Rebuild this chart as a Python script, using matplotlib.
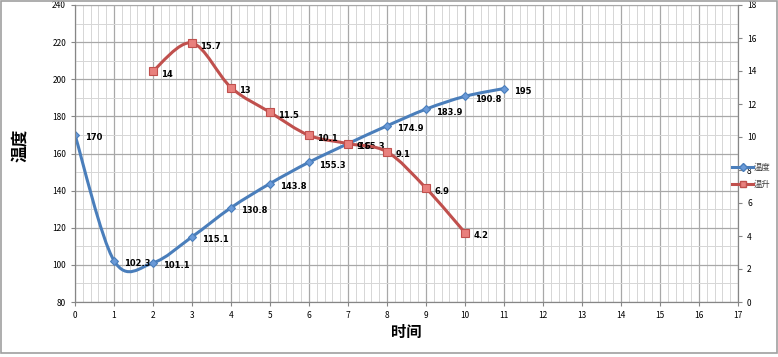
import matplotlib
matplotlib.use("Agg")
import matplotlib.pyplot as plt
from matplotlib.path import Path
from matplotlib.patches import PathPatch, Rectangle
from matplotlib.ticker import MultipleLocator
import numpy as np

plt.rcParams['font.family'] = ['Noto Sans CJK SC', 'DejaVu Sans']

# data
temp_x = [0, 1, 2, 3, 4, 5, 6, 7, 8, 9, 10, 11]
temp_y = [170, 102.3, 101.1, 115.1, 130.8, 143.8, 155.3, 165.3, 174.9, 183.9, 190.8, 195]
rise_x = [2, 3, 4, 5, 6, 7, 8, 9, 10]
rise_y = [14, 15.7, 13, 11.5, 10.1, 9.6, 9.1, 6.9, 4.2]

blue = '#4A7EBB'
red = '#C0504D'


def smooth_path(xs, ys):
    # Excel-style smoothed line: cubic Bezier segments through the points
    pts = np.column_stack([xs, ys]).astype(float)
    verts = [pts[0]]
    codes = [Path.MOVETO]
    n = len(pts)
    for i in range(n - 1):
        p0 = pts[i - 1] if i > 0 else pts[i]
        p1 = pts[i]
        p2 = pts[i + 1]
        p3 = pts[i + 2] if i + 2 < n else pts[i + 1]
        c1 = p1 + (p2 - p0) / 6
        c2 = p2 - (p3 - p1) / 6
        verts += [c1, c2, p2]
        codes += [Path.CURVE4] * 3
    return Path(verts, codes)


fig = plt.figure(figsize=(7.78, 3.57), dpi=100)
ax = fig.add_axes([75 / 778, 55 / 357, 663 / 778, 297 / 357])
ax2 = ax.twinx()

ax.set_xlim(0, 17)
ax.set_ylim(80, 240)
ax2.set_ylim(0, 18)

ax.xaxis.set_major_locator(MultipleLocator(1))
ax.xaxis.set_minor_locator(MultipleLocator(0.2))
ax.yaxis.set_major_locator(MultipleLocator(20))
ax.yaxis.set_minor_locator(MultipleLocator(10))
ax2.yaxis.set_major_locator(MultipleLocator(2))

ax.grid(True, which='major', color='#A8A8A8', lw=0.9)
ax.grid(True, which='minor', color='#D6D6D6', lw=0.7)
ax.set_axisbelow(True)

for a in (ax, ax2):
    a.spines['top'].set_visible(False)
    for s in ('left', 'right', 'bottom'):
        a.spines[s].set_color('#868686')
    a.tick_params(which='both', labelsize=6, colors='#868686', labelcolor='black', length=3, width=0.8)
    a.tick_params(which='minor', length=0)
ax.spines['top'].set_visible(True)
ax.spines['top'].set_color('#A8A8A8')

# blue series (left axis)
ax.add_patch(PathPatch(smooth_path(temp_x, temp_y), fill=False, ec=blue, lw=2.2, zorder=3))
ax.plot(temp_x, temp_y, ls='none', marker='D', ms=4.5, mfc='#6A9AD8', mec=blue, mew=0.8, zorder=4)
ax.plot([], [], color=blue, lw=2.2, marker='D', ms=4, mfc='#6A9AD8', mec=blue, label='温度')
for x, y in zip(temp_x, temp_y):
    ax.annotate(f'{y:g}', (x, y), xytext=(7, -4), textcoords='offset points',
                fontsize=6, fontweight='bold', family=['DejaVu Sans'])

# red series (right axis)
ax2.add_patch(PathPatch(smooth_path(rise_x, rise_y), fill=False, ec=red, lw=2.2, zorder=3))
ax2.plot(rise_x, rise_y, ls='none', marker='s', ms=5.5, mfc='#E8807D', mec=red, mew=0.8, zorder=4)
ax.plot([], [], color=red, lw=2.2, marker='s', ms=4.5, mfc='#E8807D', mec=red, label='温升')
for x, y in zip(rise_x, rise_y):
    ax2.annotate(f'{y:g}', (x, y), xytext=(6, -4), textcoords='offset points',
                 fontsize=6, fontweight='bold', family=['DejaVu Sans'])

ax.set_xlabel('时间', fontsize=11, fontweight='bold', labelpad=3)
fig.text(20 / 778, 1 - 145 / 357, '温度', rotation=90, fontsize=12, fontweight='bold',
         ha='center', va='center')

leg = fig.legend(loc='center left', bbox_to_anchor=(728 / 778, 1 - 176 / 357), frameon=False,
                 fontsize=6, handlelength=2.5, labelspacing=0.9, handletextpad=0.1,
                 borderpad=0)
for t in leg.get_texts():
    t.set_color('#404040')

fig.add_artist(Rectangle((1 / 778, 4 / 357), 776 / 778, 352 / 357, transform=fig.transFigure,
                         fill=False, ec='#A0A0A0', lw=1.2))

fig.savefig('out.png', dpi=100)
